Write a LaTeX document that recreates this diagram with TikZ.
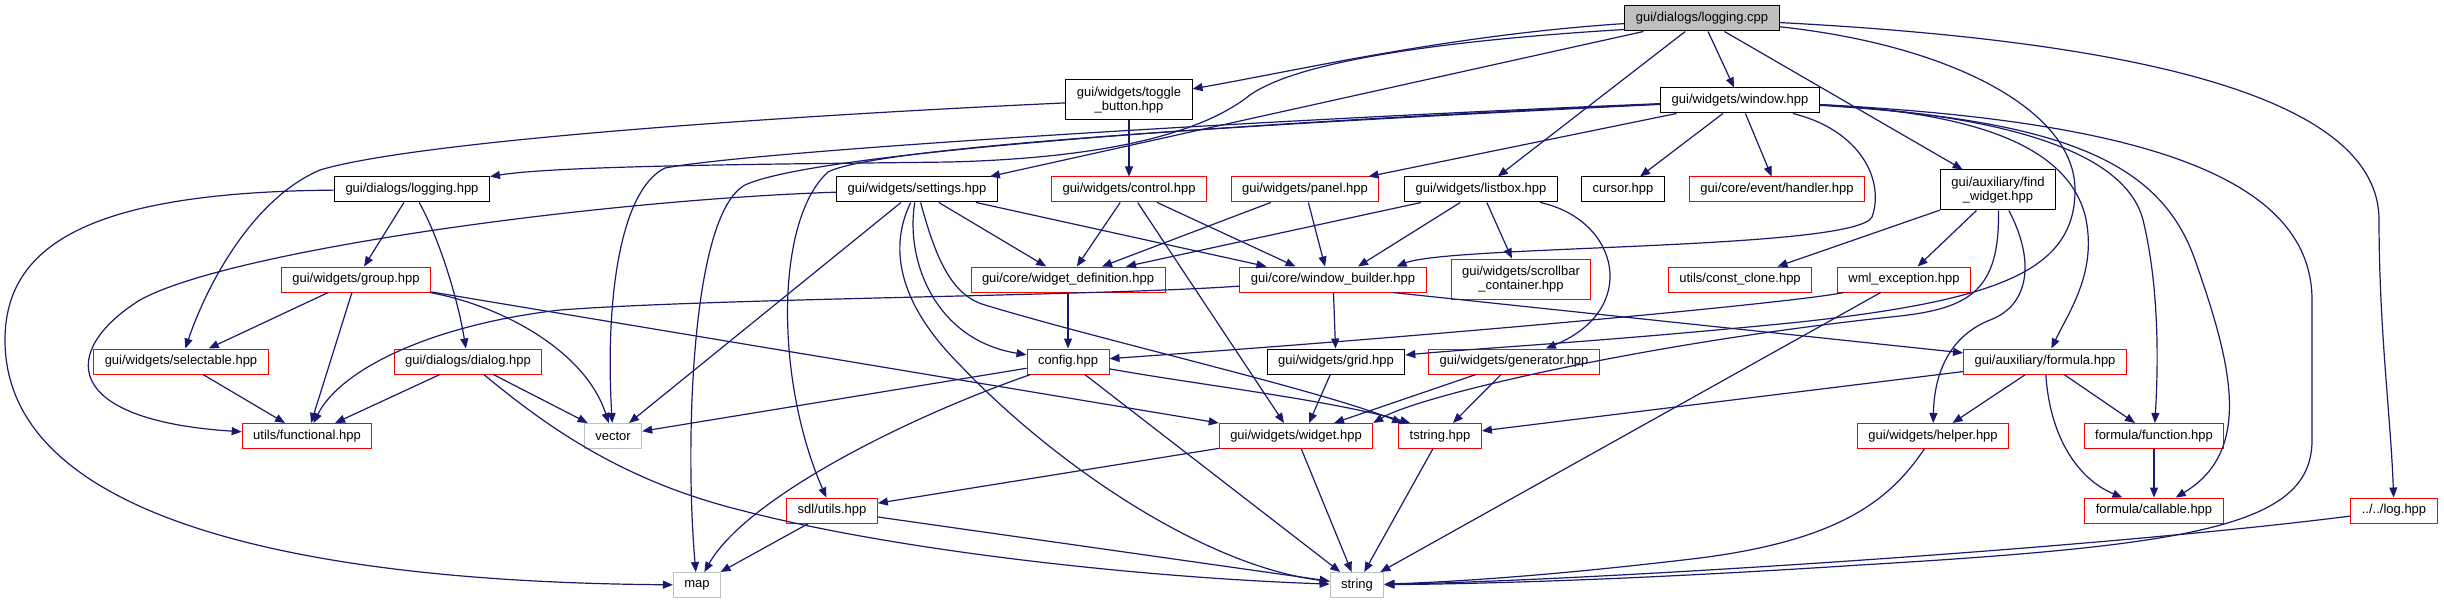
\documentclass[tikz,border=0pt]{standalone}
\usepackage{fontspec}
\setmainfont{Liberation Sans}
\usetikzlibrary{arrows.meta,calc}
\definecolor{incblue}{RGB}{25,25,112}
\definecolor{sysgray}{RGB}{191,191,191}
\tikzset{
  hdr/.style={rectangle, draw=black, fill=white, line width=0.5pt, align=center,
              font=\fontsize{6.5}{7}\selectfont, inner xsep=5.5pt, inner ysep=0.5pt, minimum height=12.5pt},
  hdrred/.style={hdr, draw=red},
  hdrsys/.style={hdr, draw=sysgray},
  hdrroot/.style={hdr, fill=sysgray},
  inc/.style={-{Triangle[length=5pt,width=4pt]}, line width=0.6pt, incblue},
}

\begin{document}
\begin{tikzpicture}[x=0.5pt,y=-0.5pt]
        \useasboundingbox (0,0) rectangle (2444,604);
        % top
        \node[hdrroot](cpp) at (1702,18.5){gui/dialogs/logging.cpp};
        % row 2
        \node[hdr,minimum height=20pt](toggle) at (1129,100){gui/widgets/toggle\\\_button.hpp};
        \node[hdr](window) at (1740,100.5){gui/widgets/window.hpp};
        % row 3
        \node[hdr](loghpp) at (412,189.5){gui/dialogs/logging.hpp};
        \node[hdr](settings) at (917,189.5){gui/widgets/settings.hpp};
        \node[hdrred](control) at (1129,189.5){gui/widgets/control.hpp};
        \node[hdrred](panel) at (1305,189.5){gui/widgets/panel.hpp};
        \node[hdr](listbox) at (1481,189.5){gui/widgets/listbox.hpp};
        \node[hdr](cursor) at (1623,189.5){cursor.hpp};
        \node[hdrred](handler) at (1777,189.5){gui/core/event/handler.hpp};
        \node[hdr,minimum height=20pt](findw) at (1998,190){gui/auxiliary/find\\\_widget.hpp};
        % row 4
        \node[hdrred](group) at (356,279.5){gui/widgets/group.hpp};
        \node[hdrred](wdef) at (1068,279.5){gui/core/widget\_definition.hpp};
        \node[hdrred](wbuild) at (1333,279.5){gui/core/window\_builder.hpp};
        \node[hdrred,minimum height=20pt](scroll) at (1521,279){gui/widgets/scrollbar\\\_container.hpp};
        \node[hdrred](constc) at (1740,279.5){utils/const\_clone.hpp};
        \node[hdrred](wmlex) at (1904,279.5){wml\_exception.hpp};
        % row 5
        \node[hdrred](select) at (181,361.5){gui/widgets/selectable.hpp};
        \node[hdrred](dialog) at (468,361.5){gui/dialogs/dialog.hpp};
        \node[hdrred](config) at (1068,361.5){config.hpp};
        \node[hdr](grid) at (1336,361.5){gui/widgets/grid.hpp};
        \node[hdrred](gener) at (1514,361.5){gui/widgets/generator.hpp};
        \node[hdrred](formula) at (2045,361.5){gui/auxiliary/formula.hpp};
        % row 6
        \node[hdrred](funct) at (307,436){utils/functional.hpp};
        \node[hdrsys](vector) at (613,436){vector};
        \node[hdrred](widget) at (1296,436){gui/widgets/widget.hpp};
        \node[hdrred](tstring) at (1440,436){tstring.hpp};
        \node[hdrred](helper) at (1933,436){gui/widgets/helper.hpp};
        \node[hdrred](function) at (2154,436){formula/function.hpp};
        % row 7
        \node[hdrred](sdlutils) at (832,510.5){sdl/utils.hpp};
        \node[hdrred](callable) at (2154,510.5){formula/callable.hpp};
        \node[hdrred](log) at (2394,510.5){../../log.hpp};
        % row 8
        \node[hdrsys](map) at (697,585){map};
        \node[hdrsys](string) at (1357,585){string};
        % logging.cpp
        \draw[inc](cpp)--(window);\draw[inc](cpp)--(listbox);\draw[inc](cpp)--(findw);
        \draw[inc](cpp)--($(settings.north east)+(-8,0)$);
        \draw[inc](cpp) .. controls (1450,35) and (1300,70) .. (toggle);
        \draw[inc]($(cpp.south west)+(0,-2)$) .. controls (1450,40) and (1300,60) .. (1250,95) .. controls (1200,135) and (1100,158) .. (950,162) .. controls (800,164) and (560,165) .. (loghpp);
        \draw[inc](cpp) .. controls (2150,42) and (2379,100) .. (2379,220) .. controls (2379,330) and (2391,420) .. (log);
        \draw[inc](cpp) .. controls (1950,45) and (2075,110) .. (2075,190) .. controls (2075,270) and (2000,300) .. (1800,322) .. controls (1600,342) and (1480,348) .. (grid);
        % window.hpp
        \draw[inc](window)--(panel);\draw[inc](window)--(cursor);\draw[inc](window)--(handler);
        \draw[inc](window) .. controls (1860,130) and (1885,180) .. (1872,217) .. controls (1855,250) and (1450,245) .. ($(wbuild.north east)+(-30,0)$);
        \draw[inc](window) .. controls (1300,118) and (760,150) .. (665,168) .. controls (620,190) and (605,300) .. (vector);
        \draw[inc](window) .. controls (1300,120) and (820,150) .. (745,185) .. controls (690,215) and (685,450) .. (map);
        \draw[inc](window) .. controls (1300,122) and (880,145) .. (828,172) .. controls (775,220) and (775,380) .. (sdlutils);
        \draw[inc](window) .. controls (1960,112) and (2065,140) .. (2085,215) .. controls (2098,270) and (2070,310) .. (formula);
        \draw[inc](window) .. controls (2000,115) and (2125,150) .. (2143,220) .. controls (2160,290) and (2158,370) .. (function);
        \draw[inc](window) .. controls (2060,120) and (2160,160) .. (2195,260) .. controls (2230,360) and (2255,450) .. (callable);
        \draw[inc](window) .. controls (2120,120) and (2312,170) .. (2312,300) -- (2312,440) .. controls (2312,525) and (2200,545) .. (1860,565) .. controls (1600,582) and (1450,584) .. (string);
        % toggle_button.hpp, logging.hpp
        \draw[inc](toggle)--(control);
        \draw[inc](toggle) .. controls (800,115) and (420,140) .. (320,170) .. controls (250,200) and (205,290) .. (select);
        \draw[inc](loghpp)--(group);
        \draw[inc](loghpp) .. controls (440,240) and (458,300) .. (dialog);
        \draw[inc](loghpp) .. controls (100,192) and (5,240) .. (5,340) .. controls (5,560) and (450,583) .. (map);
        % settings.hpp
        \draw[inc](settings)--(vector);\draw[inc](settings)--(wdef);
        \draw[inc](settings)--($(wbuild.north west)+(27,0)$);
        \draw[inc](settings) .. controls (600,200) and (230,250) .. (140,300) .. controls (60,350) and (60,420) .. (funct);
        \draw[inc](settings) .. controls (890,245) and (895,300) .. (960,365) .. controls (1050,460) and (1200,565) .. (string);
        \draw[inc](settings) .. controls (905,260) and (935,340) .. (config);
        \draw[inc](settings) .. controls (935,255) and (950,295) .. (985,305) .. controls (1100,340) and (1320,390) .. ($(tstring.north west)+(4,0)$);
        % control.hpp, panel.hpp, listbox.hpp
        \draw[inc](control)--(wdef);\draw[inc](control)--($(widget.north)+(-12,0)$);
        \draw[inc](control)--($(wbuild.north west)+(56,0)$);
        \draw[inc](panel)--($(wdef.north)+(34,0)$);\draw[inc](panel)--($(wbuild.north)+(-8,0)$);
        \draw[inc](listbox)--($(wdef.north)+(58,0)$);\draw[inc](listbox)--($(wbuild.north)+(25,0)$);
        \draw[inc](listbox)--(scroll);
        \draw[inc](listbox) .. controls (1620,220) and (1640,310) .. (gener);
        % row 4 sources
        \draw[inc](wdef)--(config);\draw[inc](wbuild)--(grid);
        \draw[inc](wbuild) .. controls (1100,296) and (720,298) .. (560,310) .. controls (430,325) and (340,370) .. (funct);
        \draw[inc]($(wbuild.south east)+(-34,0)$)--(formula);
        \draw[inc](findw)--(constc);\draw[inc](findw)--(wmlex);
        \draw[inc](findw) .. controls (2035,260) and (2030,305) .. (1990,320) .. controls (1945,338) and (1934,380) .. (helper);
        \draw[inc](findw) .. controls (2000,290) and (1970,308) .. (1900,316) .. controls (1650,342) and (1420,395) .. (widget.north east);
        \draw[inc](wmlex) .. controls (1800,302) and (1450,335) .. (config);
        \draw[inc](wmlex)--(string);
        \draw[inc](group)--(select);\draw[inc](group)--(funct);\draw[inc](group)--(widget.north west);
        \draw[inc](group) .. controls (500,305) and (585,350) .. (vector);
        % row 5 sources
        \draw[inc](select)--(funct);\draw[inc](dialog)--(funct);\draw[inc](dialog)--(vector);
        \draw[inc](dialog) .. controls (545,425) and (620,480) .. (740,510) .. controls (900,552) and (1150,578) .. (string);
        \draw[inc](config)--(vector);\draw[inc](config)--(string);
        \draw[inc](config) .. controls (900,420) and (745,500) .. (map);
        \draw[inc](config) .. controls (1200,385) and (1330,400) .. ($(tstring.north west)+(12,0)$);
        \draw[inc](grid)--($(widget.north)+(13,0)$);\draw[inc](gener)--(widget);\draw[inc](gener)--(tstring);
        \draw[inc](formula)--(tstring);\draw[inc](formula)--(helper);\draw[inc](formula)--(function);
        \draw[inc](formula) .. controls (2050,440) and (2080,480) .. (callable);
        % rows 6 and 7
        \draw[inc](widget)--(sdlutils);\draw[inc](widget)--(string);\draw[inc](tstring)--(string);
        \draw[inc](function)--(callable);
        \draw[inc](helper) .. controls (1890,500) and (1840,540) .. (1700,558) .. controls (1550,576) and (1450,582) .. (string);
        \draw[inc](sdlutils)--(map);\draw[inc](sdlutils)--(string);
        \draw[inc](log) .. controls (2100,548) and (1600,580) .. (string);
    \end{tikzpicture}
\end{document}
